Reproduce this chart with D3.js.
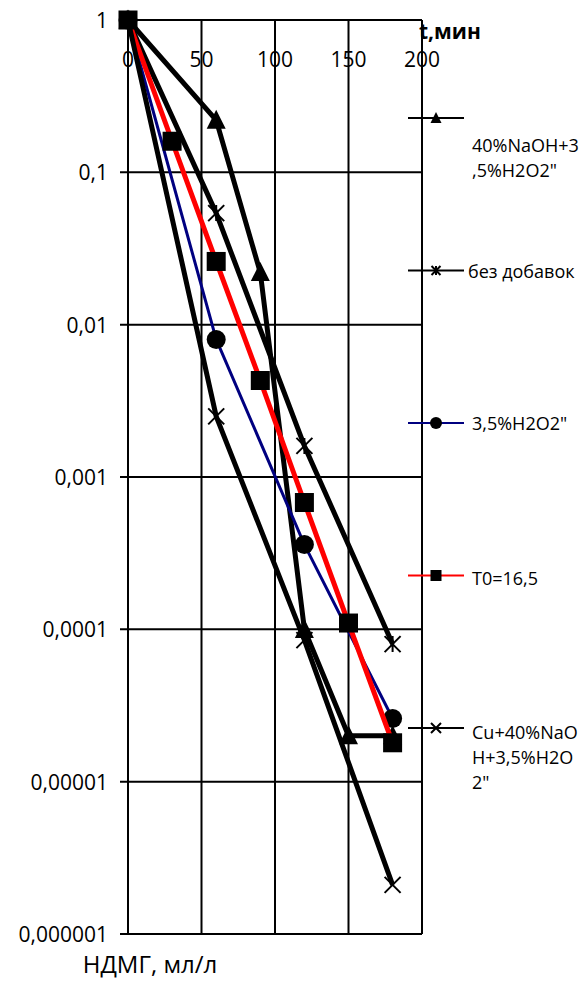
<!DOCTYPE html>
<html>
<head>
<meta charset="utf-8">
<script src="https://cdnjs.cloudflare.com/ajax/libs/d3/7.8.5/d3.min.js"></script>
<style>
    body { margin: 0; background: #fff; }
    text { font-family: "Open Sans", sans-serif; fill: #000; }
</style>
</head>
<body>
<div class="container"></div>
<script>
// x ticks (minutes) and y ticks (log scale)
const xTicks = [0, 50, 100, 150, 200],
    yTicks = [1, 0.1, 0.01, 0.001, 0.0001, 0.00001, 0.000001],
    yTickLabels = ["1", "0,1", "0,01", "0,001", "0,0001", "0,00001", "0,000001"];

// series: time values and concentration values
const naohT = [0, 60, 90, 120, 150, 180],
    naohV = [1, 0.22, 0.022, 0.0001, 0.00002, 0.00002];
const bezT = [0, 60, 120, 180],
    bezV = [1, 0.054, 0.0016, 0.00008];
const h2o2T = [0, 60, 120, 180],
    h2o2V = [1, 0.008, 0.00036, 0.000026];
const t0T = [0, 30, 60, 90, 120, 150, 180],
    t0V = [1, 0.16, 0.026, 0.0043, 0.00068, 0.00011, 0.000018];
const cuT = [0, 60, 120, 180],
    cuV = [1, 0.0025, 0.000085, 0.0000021];

const seriesNames = [
    ["40%NaOH+3", ",5%H2O2\""],
    ["без добавок"],
    [" 3,5%H2O2\""],
    ["T0=16,5"],
    ["Cu+40%NaO", "H+3,5%H2O", "2\""]
];

const render = () => {
    const width = 588,
        height = 982,
        plot = {left: 128, right: 422, top: 20, bottom: 934};

    const svg = d3.select('.container')
        .append('svg')
        .attr('width', width)
        .attr('height', height);

    const x = d3.scaleLinear().domain([0, 200]).range([plot.left, plot.right]);
    const y = d3.scaleLog().domain([0.000001, 1]).range([plot.bottom, plot.top]);

    // grid
    svg.selectAll('.vgrid')
        .data(xTicks)
        .enter()
        .append('line')
        .attr('x1', d => x(d)).attr('x2', d => x(d))
        .attr('y1', plot.top).attr('y2', plot.bottom)
        .attr('stroke', '#000').attr('stroke-width', 2);

    svg.selectAll('.hgrid')
        .data(yTicks)
        .enter()
        .append('line')
        .attr('x1', plot.left - 8).attr('x2', plot.right)
        .attr('y1', d => y(d)).attr('y2', d => y(d))
        .attr('stroke', '#000').attr('stroke-width', 2);

    svg.selectAll('.xlab')
        .data(xTicks)
        .enter()
        .append('text')
        .attr('x', d => x(d))
        .attr('y', 59)
        .attr('text-anchor', 'middle')
        .attr('dominant-baseline', 'central')
        .style('font-size', '21px')
        .text(d => d);

    svg.selectAll('.ylab')
        .data(yTicks)
        .enter()
        .append('text')
        .attr('x', 108)
        .attr('y', d => y(d))
        .attr('text-anchor', 'end')
        .attr('dominant-baseline', 'central')
        .style('font-size', '21px')
        .text((d, i) => yTickLabels[i]);

    svg.append('text')
        .attr('x', 419).attr('y', 31)
        .attr('dominant-baseline', 'central')
        .style('font-size', '21px').style('font-weight', 'bold')
        .text('t,мин');

    svg.append('text')
        .attr('x', 150).attr('y', 963)
        .attr('text-anchor', 'middle')
        .attr('dominant-baseline', 'central')
        .style('font-size', '24px')
        .text('НДМГ, мл/л');

    const series = [
        {t: naohT, v: naohV, color: '#000', w: 5, marker: 'tri'},
        {t: bezT, v: bezV, color: '#000', w: 5, marker: 'star'},
        {t: h2o2T, v: h2o2V, color: '#000080', w: 3, marker: 'circle'},
        {t: t0T, v: t0V, color: '#ff0000', w: 5, marker: 'square'},
        {t: cuT, v: cuV, color: '#000', w: 5, marker: 'x'}
    ];

    const line = d3.line().x(d => x(d[0])).y(d => y(d[1]));

    const drawMarker = (g, type, cx, cy, s) => {
        if (type === 'tri') {
            g.append('path')
                .attr('d', `M${cx},${cy - s * 0.55}L${cx + s * 0.5},${cy + s * 0.45}L${cx - s * 0.5},${cy + s * 0.45}Z`)
                .attr('fill', '#000');
        } else if (type === 'square') {
            g.append('rect')
                .attr('x', cx - s / 2).attr('y', cy - s / 2)
                .attr('width', s).attr('height', s)
                .attr('fill', '#000');
        } else if (type === 'circle') {
            g.append('circle')
                .attr('cx', cx).attr('cy', cy).attr('r', s / 2)
                .attr('fill', '#000');
        } else {
            const h = s / 2;
            let d = `M${cx - h},${cy - h}L${cx + h},${cy + h}M${cx - h},${cy + h}L${cx + h},${cy - h}`;
            if (type === 'star') d += `M${cx},${cy - h}L${cx},${cy + h}`;
            g.append('path')
                .attr('d', d)
                .attr('stroke', '#000').attr('stroke-width', 2).attr('fill', 'none');
        }
    };

    series.forEach(s => {
        const pts = s.t.map((t, i) => [t, s.v[i]]);
        svg.append('path')
            .datum(pts)
            .attr('d', line)
            .attr('fill', 'none')
            .attr('stroke', s.color)
            .attr('stroke-width', s.w)
            .attr('stroke-linejoin', 'round');
        const g = svg.append('g');
        pts.forEach(p => drawMarker(g, s.marker, x(p[0]), y(p[1]), s.marker === 'x' || s.marker === 'star' ? 16 : 19));
    });

    // legend
    const legendDy = [27, 0, 0, 2, 4],
        legendX = [472, 468, 472, 472, 472],
        legendMarkerSize = [11, 9, 12, 11, 10];
    const legend = svg.selectAll('.legend')
        .data(series)
        .enter()
        .append('g')
        .attr('transform', (d, i) => `translate(0, ${118 + i * 152.5})`);

    legend.append('line')
        .attr('x1', 408).attr('x2', 464)
        .attr('y1', 0).attr('y2', 0)
        .attr('stroke', d => d.color)
        .attr('stroke-width', 2);

    legend.each(function (d, i) {
        drawMarker(d3.select(this), d.marker, 436, 0, legendMarkerSize[i]);
    });

    legend.append('text')
        .attr('y', (d, i) => legendDy[i])
        .style('font-size', '18px')
        .attr('dominant-baseline', 'central')
        .selectAll('tspan')
        .data((d, i) => seriesNames[i].map(t => [t, legendX[i]]))
        .enter()
        .append('tspan')
        .attr('x', d => d[1])
        .attr('dy', (d, i) => i === 0 ? 0 : 25)
        .text(d => d[0]);
};

render();
</script>
</body>
</html>
